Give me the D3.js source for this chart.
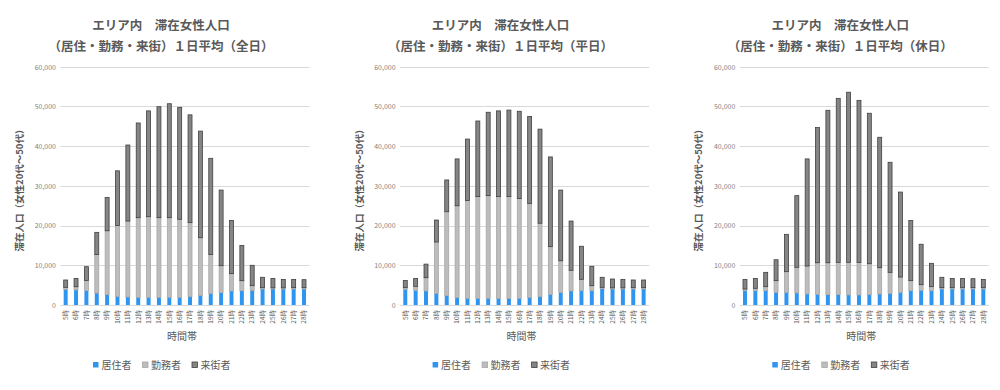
<!DOCTYPE html>
<html><head><meta charset="utf-8">
<script src="https://cdn.jsdelivr.net/npm/d3@7/dist/d3.min.js"></script>
<style>
body{margin:0;background:#fff;}
text{font-family:"Noto Sans CJK JP","Noto Sans",sans-serif;}
</style></head>
<body><svg id="c" width="1000" height="390"></svg>
<script>
const hours = ["5時","6時","7時","8時","9時","10時","11時","12時","13時","14時","15時","16時","17時","18時","19時","20時","21時","22時","23時","24時","25時","26時","27時","28時"];
const seriesNames = ["居住者","勤務者","来街者"];
const yTicks = [0,10000,20000,30000,40000,50000,60000];
const titles1 = ["エリア内　滞在女性人口","エリア内　滞在女性人口","エリア内　滞在女性人口"];
const titles2 = ["（居住・勤務・来街）１日平均（全日）","（居住・勤務・来街）１日平均（平日）","（居住・勤務・来街）１日平均（休日）"];

// 全日
const allRes = [3950,3780,3600,3000,2600,2180,2010,1930,1930,1930,1930,1930,2100,2430,2860,3100,3530,3600,3700,4030,4030,4030,4030,4030];
const allWork = [500,820,2600,9700,16100,17820,19140,20070,20320,20070,20070,19670,18650,14520,9840,6800,4370,2530,1170,340,300,300,340,340];
const allVisit = [1850,2100,3450,5600,8400,13800,19150,23850,26650,27950,28700,28200,27150,26850,24250,19050,13400,8870,5130,2610,2370,2120,2080,2010];
// 平日
const wdRes = [3950,3700,3530,2940,2350,1850,1680,1680,1680,1680,1680,1680,1850,2100,2690,3190,3530,3600,3600,4120,4030,4030,4030,4030];
const wdWork = [420,1000,3350,12930,21150,23150,24620,25620,25870,25620,25620,25120,23750,18500,12010,7960,5210,2870,1270,330,300,300,340,340];
const wdVisit = [1830,2000,3420,5530,8000,11800,15500,19050,21000,21600,21800,22000,21900,23700,22600,17800,12410,8330,4880,2530,2220,2120,1930,1930];
// 休日
const heRes = [3600,3600,3600,3190,3190,3020,2770,2690,2600,2600,2520,2520,2600,2770,2940,3190,3600,3700,3600,4030,4030,4030,4030,4030];
const heWork = [430,600,1020,2940,5210,6480,7050,7960,8050,8150,8230,8230,7800,6630,5290,3860,2530,1420,1020,340,340,340,340,340];
const heVisit = [2420,2500,3610,5270,9400,18050,26980,34050,38400,41300,42850,40800,37900,32850,27720,21400,15170,10180,5880,2610,2330,2330,2260,2080];

const fills = ["#2E95F0","#BDBDBD","#858585"];
const strokes = ["#2E95F0","#A6A6A6","#404040"];
const svg = d3.select("#c");

function drawChart(ox, idx, res, work, visit){
  const g = svg.append("g").attr("transform",`translate(${ox},0)`);
  const x = d3.scaleBand().domain(hours).range([60.5,309.2]).paddingInner(0.52).paddingOuter(0.26);
  const y = d3.scaleLinear().domain([0,60000]).range([305,66.8]);
  // titles
  g.append("text").attr("x",161).attr("y",30).attr("text-anchor","middle")
    .attr("font-size",12.5).attr("font-weight","bold").attr("fill","#595959").text(titles1[idx]);
  g.append("text").attr("x",161).attr("y",51).attr("text-anchor","middle")
    .attr("font-size",12.5).attr("font-weight","bold").attr("fill","#595959").text(titles2[idx]);
  // grid
  g.append("g").selectAll("line").data(yTicks).join("line")
    .attr("x1",60.5).attr("x2",309.5).attr("y1",d=>Math.round(y(d))+0.5).attr("y2",d=>Math.round(y(d))+0.5)
    .attr("stroke","#D9D9D9").attr("stroke-width",1);
  // y axis
  const ya = g.append("g").attr("transform","translate(56,0)")
    .call(d3.axisLeft(y).tickValues(yTicks).tickSize(0).tickPadding(0).tickFormat(d3.format(",")));
  ya.select(".domain").remove();
  ya.selectAll("text").attr("font-size",7).attr("fill","#7F7F7F").attr("font-family","Calibri,'Liberation Sans',sans-serif");
  // y label
  g.append("text").attr("transform","translate(23,188) rotate(-90)").attr("text-anchor","middle")
    .attr("font-size",9.5).attr("font-weight","bold").attr("fill","#595959").text("滞在人口（女性20代～50代）");
  // stacked bars
  const rows = hours.map((h,i)=>({h, 居住者:res[i], 勤務者:work[i], 来街者:visit[i]}));
  const stack = d3.stack().keys(seriesNames)(rows);
  stack.forEach((s,si)=>{
    g.append("g").selectAll("rect").data(s).join("rect")
      .attr("x",d=>x(d.data.h)+0.5).attr("width",x.bandwidth()-1)
      .attr("y",d=>y(d[1])).attr("height",d=>Math.max(0,y(d[0])-y(d[1])))
      .attr("fill",fills[si]).attr("stroke",strokes[si]).attr("stroke-width",si===0?0:0.8);
  });
  // x axis labels
  const xa = g.append("g").attr("transform","translate(0,308)")
    .call(d3.axisBottom(x).tickSize(0).tickPadding(0));
  xa.select(".domain").remove();
  xa.selectAll("text").attr("font-size",6.5).attr("fill","#595959")
    .attr("transform","rotate(-90)").attr("text-anchor","end").attr("dy","0.35em").attr("dx","-0.3em").attr("y",0).attr("x",0);
  g.append("text").attr("x",182).attr("y",339.5).attr("text-anchor","middle")
    .attr("font-size",10).attr("fill","#595959").text("時間帯");
  // legend
  const lx = [93,142.5,192];
  seriesNames.forEach((n,i)=>{
    g.append("rect").attr("x",lx[i]).attr("y",362).attr("width",5.5).attr("height",5.5)
      .attr("fill",fills[i]).attr("stroke",strokes[i]).attr("stroke-width",i===0?0:0.8);
    g.append("text").attr("x",lx[i]+8.5).attr("y",368.5).attr("font-size",10).attr("fill","#595959").text(n);
  });
}
drawChart(0,0,allRes,allWork,allVisit);
drawChart(339.6,1,wdRes,wdWork,wdVisit);
drawChart(679.3,2,heRes,heWork,heVisit);
</script></body></html>
